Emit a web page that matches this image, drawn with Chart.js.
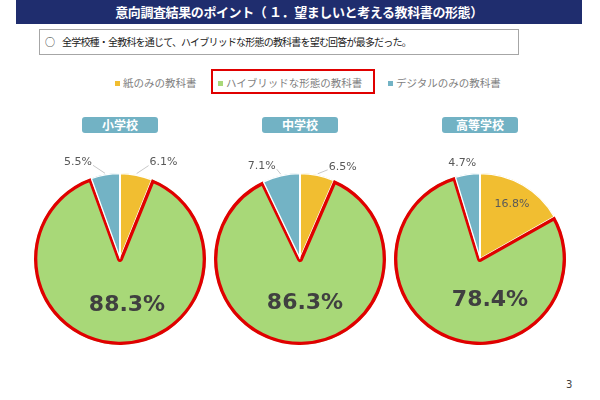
<!DOCTYPE html>
<html>
<head>
<meta charset="utf-8">
<script src="https://cdn.jsdelivr.net/npm/chart.js@4"></script>
<style>
  body { margin: 0; background: #fff; font-family: "Noto Sans CJK JP", sans-serif; }
  #slide { position: relative; width: 600px; height: 400px; overflow: hidden; }
  #header { position: absolute; left: 16px; top: 0; width: 566px; height: 24px; background: #1F2D6E;
            color: #fff; font-weight: bold; font-size: 13px; letter-spacing: -0.4px; line-height: 24px; text-align: center; }
  #note { position: absolute; left: 39px; top: 29px; width: 478px; height: 24px; border: 1px solid #a6a6a6;
          font-size: 10px; line-height: 24px; color: #222; letter-spacing: -0.8px; }
  #note span.mark { position: absolute; left: 5px; letter-spacing: 0; }
  #note span.txt { position: absolute; left: 22px; }
  #legend { position: absolute; top: 73px; left: 0; width: 600px; height: 20px; font-size: 10.5px; color: #7f7f7f; }
  .item { position: absolute; top: 0; line-height: 20px; white-space: nowrap; }
  .item i { display: inline-block; width: 5px; height: 5px; margin-right: 3px; vertical-align: 1px; }
  #hl { position: absolute; left: 211px; top: 69px; width: 160px; height: 21px; border: 2px solid #E00000; }
  .cap { position: absolute; top: 117px; width: 76px; height: 16px; background: #72B2C4; border-radius: 3px;
         color: #fff; font-weight: bold; font-size: 12px; line-height: 16px; text-align: center; }
  canvas { position: absolute; }
  #page { position: absolute; left: 566px; top: 379px; font-size: 10px; color: #404040; font-family: "DejaVu Sans", sans-serif; }
</style>
</head>
<body>
<div id="slide">
  <div id="header">意向調査結果のポイント（ １．望ましいと考える教科書の形態）</div>
  <div id="note"><span class="mark">○</span><span class="txt">全学校種・全教科を通じて、ハイブリッドな形態の教科書を望む回答が最多だった。</span></div>
  <div id="hl"></div>
  <div id="legend"></div>
  <div id="page">3</div>
</div>
<script>
// categories (legend) and the three school types
const categories = ['紙のみの教科書', 'ハイブリッドな形態の教科書', 'デジタルのみの教科書'];
const schools = ['小学校', '中学校', '高等学校'];

// percentages: paper, hybrid, digital
const elementary = [6.1, 88.3, 5.5];
const juniorHigh = [6.5, 86.3, 7.1];
const highSchool = [16.8, 78.4, 4.7];

const sliceColors = ['#F1BE31', '#A8D878', '#73B3C5'];
const sliceBorders = ['#ffffff', '#E00000', '#ffffff'];
const sliceBorderW = [1, 3, 1];

// legend
var legendX = [115, 218, 388];
var legend = document.getElementById('legend');
categories.forEach(function(c, i) {
    var d = document.createElement('div');
    d.className = 'item';
    d.style.left = legendX[i] + 'px';
    d.innerHTML = '<i style="background:' + sliceColors[i] + '"></i>' + c;
    legend.appendChild(d);
});

// label plugin: small labels outside with leader line, big one inside
const pctLabels = {
    id: 'pctLabels',
    afterDatasetsDraw(chart, args, opts) {
        var ctx = chart.ctx;
        var arcs = chart.getDatasetMeta(0).data;
        var values = chart.data.datasets[0].data;
        arcs.forEach(function(arc, i) {
            var p = opts.place[i];
            var a = arc.getProps(['x', 'y', 'startAngle', 'endAngle', 'outerRadius'], true);
            var mid = (a.startAngle + a.endAngle) / 2;
            var text = values[i].toFixed(1) + '%';
            ctx.save();
            ctx.textAlign = 'center';
            ctx.textBaseline = 'middle';
            if (p.mode == 'big') {
                ctx.font = 'bold 22px "DejaVu Sans"';
                ctx.fillStyle = '#404040';
                ctx.fillText(text, a.x + p.dx, a.y + p.dy);
            } else if (p.mode == 'in') {
                ctx.font = '11px "DejaVu Sans"';
                ctx.fillStyle = '#595959';
                ctx.fillText(text, a.x + Math.cos(mid) * a.outerRadius * p.r, a.y + Math.sin(mid) * a.outerRadius * p.r);
            } else {
                ctx.font = '11px "DejaVu Sans"';
                var ex = a.x + Math.cos(mid) * (a.outerRadius + 1);
                var ey = a.y + Math.sin(mid) * (a.outerRadius + 1);
                var tx = ex + p.dx, ty = ey + p.dy;
                var w = ctx.measureText(text).width;
                var side = p.dx > 0 ? 1 : -1;
                var lx = tx - side * (w / 2 + 1);
                if (Math.abs(p.dx) > 8) {
                    ctx.strokeStyle = '#c8c8c8';
                    ctx.lineWidth = 1;
                    ctx.beginPath();
                    ctx.moveTo(ex, ey);
                    ctx.lineTo(lx, ty + 3);
                    ctx.stroke();
                }
                ctx.fillStyle = '#595959';
                ctx.fillText(text, tx, ty);
            }
            ctx.restore();
        });
    }
};

function makePie(idx, values, cx, place) {
    var cap = document.createElement('div');
    cap.className = 'cap';
    cap.style.left = (cx - 38) + 'px';
    cap.textContent = schools[idx];
    document.getElementById('slide').appendChild(cap);

    var cv = document.createElement('canvas');
    cv.width = 200;
    cv.height = 210;
    cv.style.left = (cx - 100) + 'px';
    cv.style.top = (259 - 105) + 'px';
    document.getElementById('slide').appendChild(cv);

    new Chart(cv.getContext('2d'), {
        type: 'pie',
        data: {
            labels: categories,
            datasets: [{
                data: values,
                backgroundColor: sliceColors,
                borderColor: sliceBorders,
                borderWidth: sliceBorderW,
                borderAlign: 'inner',
                radius: 86
            }]
        },
        options: {
            responsive: false,
            animation: false,
            events: [],
            layout: { padding: 0 },
            plugins: {
                legend: { display: false },
                tooltip: { enabled: false },
                pctLabels: { place: place }
            }
        },
        plugins: [pctLabels]
    });
}

makePie(0, elementary, 120, [
    { mode: 'out', dx: 27, dy: -11 }, { mode: 'big', dx: 7, dy: 46 }, { mode: 'out', dx: -27, dy: -11 }]);
makePie(1, juniorHigh, 300, [
    { mode: 'out', dx: 25, dy: -7 }, { mode: 'big', dx: 5, dy: 44 }, { mode: 'out', dx: -19, dy: -8 }]);
makePie(2, highSchool, 480, [
    { mode: 'in', r: 0.74 }, { mode: 'big', dx: 10, dy: 41 }, { mode: 'out', dx: -5, dy: -10 }]);
</script>
</body>
</html>
